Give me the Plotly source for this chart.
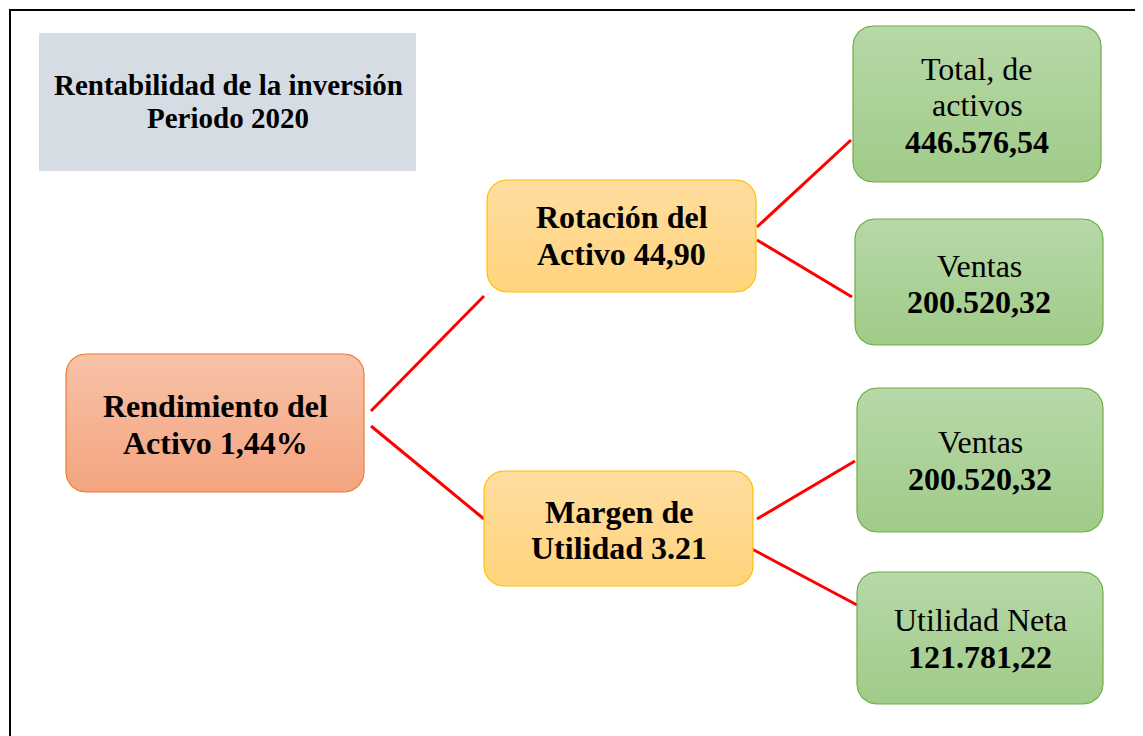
import numpy as np
import plotly.graph_objects as go

# ---- content ----
title_lines = ["Rentabilidad de la inversión", "Periodo 2020"]
node_names = ["root", "rot", "mar", "tot", "ven1", "ven2", "util"]
# each node: list of (text, bold?)
node_lines = {
    "root": [("Rendimiento del", True), ("Activo 1,44%", True)],
    "rot": [("Rotación del", True), ("Activo 44,90", True)],
    "mar": [("Margen de", True), ("Utilidad 3.21", True)],
    "tot": [("Total, de", False), ("activos", False), ("446.576,54", True)],
    "ven1": [("Ventas", False), ("200.520,32", True)],
    "ven2": [("Ventas", False), ("200.520,32", True)],
    "util": [("Utilidad Neta", False), ("121.781,22", True)],
}
edges = [("root", "rot"), ("root", "mar"), ("rot", "tot"), ("rot", "ven1"), ("mar", "ven2"), ("mar", "util")]

# ---- layout geometry (pixels) ----
boxes = {
    "root": (66, 354, 364, 492),
    "rot": (487, 180, 756, 292),
    "mar": (484, 471, 753, 586),
    "tot": (853, 26, 1101, 182),
    "ven1": (855, 219, 1103, 345),
    "ven2": (857, 388, 1103, 532),
    "util": (857, 572, 1103, 704),
}
line_y = {
    "root": [406, 443],
    "rot": [217, 254],
    "mar": [512, 548],
    "tot": [69, 105, 142],
    "ven1": [266, 302],
    "ven2": [442, 479],
    "util": [620, 657],
}
title_y = [85, 118]
edge_pts = {
    ("root", "rot"): ((371, 411), (484, 296)),
    ("root", "mar"): ((371, 426), (484, 519)),
    ("rot", "tot"): ((757, 227), (851, 140)),
    ("rot", "ven1"): ((757, 240), (852, 297)),
    ("mar", "ven2"): ((757, 519), (855, 461)),
    ("mar", "util"): ((752, 549), (857, 605)),
}
styles = {
    "root": ("#F8C2A8", "#F4A47F", "#ED7D31"),
    "rot": ("#FFDDA0", "#FFD47C", "#FFC000"),
    "mar": ("#FFDDA0", "#FFD47C", "#FFC000"),
    "tot": ("#B7D8A8", "#A0CB88", "#70AD47"),
    "ven1": ("#B7D8A8", "#A0CB88", "#70AD47"),
    "ven2": ("#B7D8A8", "#A0CB88", "#70AD47"),
    "util": ("#B7D8A8", "#A0CB88", "#70AD47"),
}

W, H = 1143, 736
OFF = 8  # page body margin
FONT = "Liberation Serif"


def rounded(x0, y0, x1, y1, r=20):
    xs, ys = [], []
    corners = [(x1 - r, y0 + r, -90, 0), (x1 - r, y1 - r, 0, 90),
               (x0 + r, y1 - r, 90, 180), (x0 + r, y0 + r, 180, 270)]
    for cx, cy, a0, a1 in corners:
        t = np.radians(np.linspace(a0, a1, 12))
        xs += list(cx + r * np.cos(t))
        ys += list(cy + r * np.sin(t))
    xs.append(xs[0]); ys.append(ys[0])
    return xs, ys


fig = go.Figure()

# edges
for e in edges:
    (ax, ay), (bx, by) = edge_pts[e]
    fig.add_trace(go.Scatter(x=[ax, bx], y=[ay, by], mode="lines",
                             line=dict(color="#FF0000", width=3), hoverinfo="skip", showlegend=False))

# boxes
for name in node_names:
    x0, y0, x1, y1 = boxes[name]
    ctop, cbot, cline = styles[name]
    xs, ys = rounded(x0, y0, x1, y1, 20)
    fig.add_trace(go.Scatter(
        x=xs, y=ys, mode="lines", fill="toself",
        fillgradient=dict(type="vertical", colorscale=[[0, cbot], [1, ctop]], start=y1, stop=y0),
        line=dict(color=cline, width=1.2), hoverinfo="skip", showlegend=False))

# title box
fig.add_shape(type="rect", x0=39, y0=33, x1=416, y1=171, fillcolor="#D6DCE4", line=dict(width=0), layer="below")
for txt, ty in zip(title_lines, title_y):
    fig.add_annotation(x=228, y=ty, text="<b>" + txt + "</b>", showarrow=False,
                       font=dict(family=FONT, size=29, color="black"))

# frame
fig.add_shape(type="rect", x0=10, y0=10, x1=1170, y1=770, line=dict(color="black", width=2), fillcolor="rgba(0,0,0,0)")

# node texts
for name in node_names:
    x0, y0, x1, y1 = boxes[name]
    for (txt, bold), ty in zip(node_lines[name], line_y[name]):
        fig.add_annotation(x=(x0 + x1) / 2, y=ty, text=("<b>" + txt + "</b>") if bold else txt,
                           showarrow=False, font=dict(family=FONT, size=32, color="black"))

fig.update_layout(
    width=W, height=H, margin=dict(l=0, r=0, t=0, b=0),
    paper_bgcolor="white", plot_bgcolor="white",
    xaxis=dict(range=[OFF, W + OFF], visible=False, fixedrange=True),
    yaxis=dict(range=[H + OFF, OFF], visible=False, fixedrange=True),
)
fig.write_html("out.html")
